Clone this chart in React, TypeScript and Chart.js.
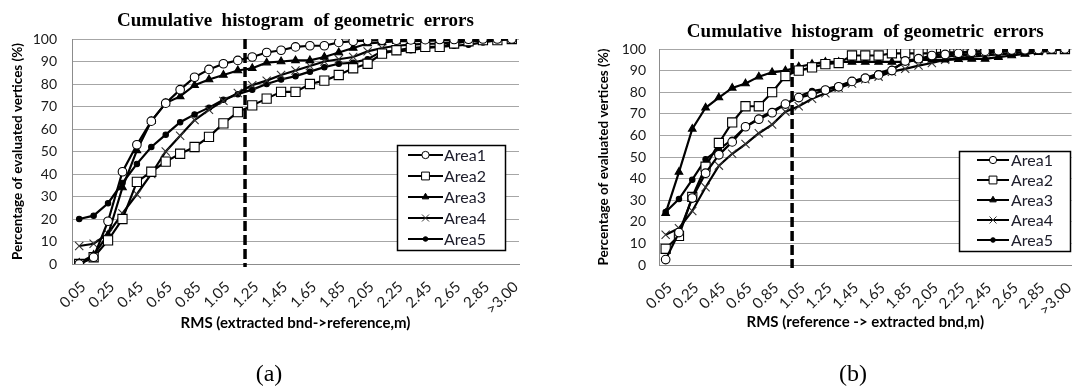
import React, { useEffect, useRef } from 'react';
import { Chart, registerables } from 'chart.js';

Chart.register(...registerables);

// ---------- data ----------
const categories = [
  '0.05', '0.15', '0.25', '0.35', '0.45', '0.55', '0.65', '0.75', '0.85', '0.95',
  '1.05', '1.15', '1.25', '1.35', '1.45', '1.55', '1.65', '1.75', '1.85', '1.95',
  '2.05', '2.15', '2.25', '2.35', '2.45', '2.55', '2.65', '2.75', '2.85', '2.95', '>3.00',
];

const seriesNames = ['Area1', 'Area2', 'Area3', 'Area4', 'Area5'];

// Panel (a): extracted bnd -> reference
const area1A = [0, 3, 19, 41, 53, 63.5, 71.5, 77.5, 83, 86.5, 89, 90.5, 92, 94, 95, 96.5, 97, 97, 98.5, 99, 99.3, 99.5, 99.5, 99.6, 99.7, 99.8, 99.8, 99.9, 100, 100, 100];
const area2A = [0, 3, 10.5, 20, 36.5, 41, 45.5, 49, 52, 56.5, 62.5, 67.5, 70.5, 73.5, 76.5, 76.5, 80, 81.5, 84, 87, 89, 93.5, 95, 96, 96.5, 96.5, 98, 99, 99.5, 99.5, 100];
const area3A = [0.5, 4, 13, 34, 50.5, 63.5, 71.5, 74.5, 79.5, 82, 84, 86, 87, 89.5, 90, 90.5, 90.5, 92, 94, 96, 98, 98.5, 99, 99, 99.2, 99.4, 99.5, 99.6, 99.8, 100, 100];
const area4A = [8, 9, 13.5, 22.5, 31, 40, 50, 57, 64, 68.5, 72.5, 76, 79.5, 81.5, 84, 86, 88, 90, 91, 92, 94.5, 96, 97, 97.5, 97.8, 98, 98.5, 99, 99.3, 99.6, 100];
const area5A = [20, 21.5, 27, 36, 44.5, 52, 57.5, 63, 66.5, 69.5, 73, 75.5, 77.5, 80, 82, 83.5, 85.5, 87.5, 89, 89.5, 91, 94.5, 94.5, 95, 96, 96.5, 97, 97.5, 98.5, 99.5, 100];

// Panel (b): reference -> extracted bnd
const area1B = [2.5, 15, 31, 42.5, 51, 57, 64, 67.5, 70.5, 74.5, 77.5, 79, 81, 82.5, 85, 86.5, 88, 90, 94.5, 95.5, 97, 97.5, 98, 98.5, 99, 99.2, 99.5, 99.6, 99.8, 100, 100];
const area2B = [7.5, 13.5, 31.5, 45.5, 56.5, 66, 73.5, 73.5, 80, 87.5, 90, 91.5, 93, 93.5, 97, 97, 97, 98, 98, 98, 98, 98.5, 98.5, 98.8, 99, 99.5, 99.8, 100, 100, 100, 100];
const area3B = [24, 43, 63, 72.8, 77.5, 82, 84, 87.2, 89.2, 90, 91.8, 93, 94, 94, 94, 94, 94, 94, 94, 95, 95, 95, 95.2, 95.4, 95.4, 96.2, 97, 97.7, 98.5, 99.2, 100];
const area4B = [14, 17, 25, 36, 46, 51.5, 56, 61, 65, 71, 73.5, 77, 79.5, 82, 84, 86, 87.2, 89.5, 90.8, 92.3, 93.5, 95, 95.8, 96.5, 97, 97.5, 98, 98.5, 99, 99.5, 100];
const area5B = [24.5, 30.5, 39.5, 49, 53.5, 58, 64, 68, 71.2, 74.5, 78, 80.5, 81.5, 83, 85, 86.5, 88.8, 90.8, 93.8, 95.4, 96.2, 96.5, 97, 97.5, 98, 98.5, 99, 99.3, 99.6, 99.8, 100];

// Threshold marks (RMS in metres)
const thresholdA = 1.2;
const thresholdB = 1.0;

const yTicks = { min: 0, max: 100, step: 10 };

// ---------- styling ----------
const markerStyles = [
  { style: 'circle', radius: 4.3, fill: '#ffffff', stroke: '#000000' },
  { style: 'rect', radius: 6.5, fill: '#ffffff', stroke: '#000000' },
  { style: 'triangle', radius: 4.4, fill: '#000000', stroke: '#000000' },
  { style: 'crossRot', radius: 5.8, fill: '#000000', stroke: '#333333' },
  { style: 'circle', radius: 2.7, fill: '#000000', stroke: '#000000' },
];

const SANS = 'Lato, "Open Sans", "Liberation Sans", sans-serif';
const SERIF = '"Liberation Serif", "DejaVu Serif", serif';

function drawMarker(ctx: CanvasRenderingContext2D, style: string, x: number, y: number, r: number, fill: string, stroke: string) {
  ctx.save();
  ctx.fillStyle = fill;
  ctx.strokeStyle = stroke;
  ctx.lineWidth = 1;
  ctx.beginPath();
  if (style === 'circle') {
    ctx.arc(x, y, r, 0, Math.PI * 2);
    ctx.fill();
    ctx.stroke();
  } else if (style === 'rect') {
    const s = Math.SQRT1_2 * r;
    ctx.rect(x - s, y - s, 2 * s, 2 * s);
    ctx.fill();
    ctx.stroke();
  } else if (style === 'triangle') {
    ctx.moveTo(x, y - r);
    ctx.lineTo(x + 0.866 * r, y + 0.5 * r);
    ctx.lineTo(x - 0.866 * r, y + 0.5 * r);
    ctx.closePath();
    ctx.fill();
    ctx.stroke();
  } else if (style === 'crossRot') {
    const s = Math.SQRT1_2 * r;
    ctx.moveTo(x - s, y - s);
    ctx.lineTo(x + s, y + s);
    ctx.moveTo(x - s, y + s);
    ctx.lineTo(x + s, y - s);
    ctx.stroke();
  }
  ctx.restore();
}

const boxLegendPlugin = {
  id: 'boxLegend',
  afterDraw(chart: any, _args: any, o: any) {
    if (!o || !o.w) return;
    const ca = chart.chartArea;
    const ctx: CanvasRenderingContext2D = chart.ctx;
    const left = Math.round(ca.right - o.right - o.w);
    const top = Math.round(ca.top + o.top);
    ctx.save();
    ctx.fillStyle = '#ffffff';
    ctx.fillRect(left, top, o.w, o.h);
    ctx.strokeStyle = '#000000';
    ctx.lineWidth = 1.5;
    ctx.strokeRect(left + 0.5, top + 0.5, o.w, o.h);
    chart.data.datasets.forEach((ds: any, i: number) => {
      const y = top + o.first + i * o.gap;
      ctx.beginPath();
      ctx.moveTo(left + o.l0, y);
      ctx.lineTo(left + o.l1, y);
      ctx.lineWidth = 2;
      ctx.strokeStyle = '#000000';
      ctx.stroke();
      const m = markerStyles[i];
      drawMarker(ctx, m.style, left + (o.l0 + o.l1) / 2, y, m.radius * 0.85, m.fill, m.stroke);
      ctx.fillStyle = '#1c1c2a';
      ctx.font = `${o.fontSize}px ${SANS}`;
      ctx.textAlign = 'left';
      ctx.textBaseline = 'middle';
      ctx.fillText(ds.label, left + o.tx, y + 1);
    });
    ctx.restore();
  },
};

const refLinePlugin = {
  id: 'refLine',
  beforeDatasetsDraw(chart: any, _args: any, o: any) {
    if (!o || o.rms == null) return;
    const xs = chart.scales.x;
    const idx = (o.rms - 0.05) / 0.1;
    const x = xs.getPixelForValue(idx);
    const ca = chart.chartArea;
    const ctx: CanvasRenderingContext2D = chart.ctx;
    ctx.save();
    ctx.strokeStyle = '#000000';
    ctx.lineWidth = 3.5;
    ctx.setLineDash([10, 4]);
    ctx.beginPath();
    ctx.moveTo(x, ca.top);
    ctx.lineTo(x, ca.bottom + 3);
    ctx.stroke();
    ctx.restore();
  },
};

function buildConfig(p: any) {
  const data = [p.s1, p.s2, p.s3, p.s4, p.s5];
  return {
    type: 'line',
    data: {
      labels: categories,
      datasets: seriesNames.map((name, i) => ({
        label: name,
        data: data[i],
        borderColor: '#000000',
        borderWidth: 2.2,
        tension: 0,
        fill: false,
        pointStyle: markerStyles[i].style,
        pointRadius: markerStyles[i].radius,
        pointBackgroundColor: markerStyles[i].fill,
        pointBorderColor: markerStyles[i].stroke,
        pointBorderWidth: 1.1,
      })),
    },
    options: {
      responsive: false,
      maintainAspectRatio: false,
      animation: false,
      events: [],
      layout: { padding: { left: 0, top: 0, right: p.padRight, bottom: 0 } },
      plugins: {
        legend: { display: false },
        tooltip: { enabled: false },
        title: {
          display: true,
          text: 'Cumulative  histogram  of geometric  errors',
          color: '#000000',
          font: { family: SERIF, size: 19, weight: 'bold' },
          padding: { top: p.titleTop, bottom: p.titleBottom },
          fullSize: false,
        },
        boxLegend: p.legend,
        refLine: { rms: p.threshold },
      },
      scales: {
        x: {
          type: 'category',
          offset: true,
          grid: { display: false, drawTicks: false },
          border: { display: true, color: '#8c8c8c', width: 1 },
          ticks: {
            autoSkip: false,
            maxRotation: 45,
            minRotation: 45,
            padding: p.xTickPad,
            labelOffset: 4,
            color: '#1a1a1a',
            font: { family: SANS, size: 15 },
            callback: function (this: any, v: any, i: number) {
              return i % 2 === 0 ? this.getLabelForValue(v) : '';
            },
          },
          title: {
            display: true,
            text: p.xTitle,
            color: '#000000',
            font: { family: SANS, size: 15, weight: 'bold' },
            padding: { top: 0, bottom: p.xTitleBottom },
          },
          afterFit: (s: any) => { s.height = p.xHeight; },
        },
        y: {
          min: yTicks.min,
          max: yTicks.max,
          grid: { color: '#a6a6a6', lineWidth: 1, drawTicks: false },
          border: { display: true, color: '#8c8c8c', width: 1 },
          ticks: {
            stepSize: yTicks.step,
            padding: p.yTickPad,
            color: '#1a1a1a',
            font: { family: SANS, size: 14 },
          },
          title: {
            display: true,
            text: 'Percentage of evaluated vertices (%)',
            color: '#000000',
            font: { family: SANS, size: 13.5, weight: 'bold' },
            padding: { top: p.yTitleTop, bottom: 0 },
          },
          afterFit: (s: any) => { s.width = p.yWidth; },
        },
      },
    },
    plugins: [boxLegendPlugin, refLinePlugin],
  };
}

const panelA = {
  s1: area1A, s2: area2A, s3: area3A, s4: area4A, s5: area5A,
  threshold: thresholdA,
  xTitle: 'RMS (extracted bnd->reference,m)',
  padRight: 26, titleTop: 9.6, titleBottom: 6.6,
  xHeight: 123, xTitleBottom: 55, xTickPad: 14,
  yWidth: 72, yTickPad: 15, yTitleTop: 10,
  legend: { right: 14, top: 106, w: 108, h: 105, l0: 11, l1: 46, tx: 47, first: 10, gap: 21, fontSize: 16 },
};

const panelB = {
  s1: area1B, s2: area2B, s3: area3B, s4: area4B, s5: area5B,
  threshold: thresholdB,
  xTitle: 'RMS (reference -> extracted bnd,m)',
  padRight: 2, titleTop: 20.3, titleBottom: 5.9,
  xHeight: 122, xTitleBottom: 56, xTickPad: 14,
  yWidth: 114, yTickPad: 13, yTitleTop: 51,
  legend: { right: 2, top: 102, w: 111, h: 100, l0: 18, l1: 50, tx: 52, first: 9, gap: 20, fontSize: 16 },
};

function Panel({ cfg, left, width }: { cfg: any; left: number; width: number }) {
  const ref = useRef<HTMLCanvasElement | null>(null);
  useEffect(() => {
    if (!ref.current) return;
    const chart = new Chart(ref.current, buildConfig(cfg) as any);
    return () => chart.destroy();
  }, [cfg]);
  return (
    <canvas
      ref={ref}
      width={width}
      height={387}
      style={{ position: 'absolute', left, top: 0, width, height: 387, display: 'block' }}
    />
  );
}

export default function App() {
  return (
    <div style={{ position: 'absolute', left: 0, top: 0, width: 1092, height: 387, background: '#ffffff', overflow: 'hidden' }}>
      <Panel cfg={panelA} left={0} width={545} />
      <Panel cfg={panelB} left={545} width={547} />
      <div style={{ position: 'absolute', left: 219, width: 100, top: 358, textAlign: 'center', fontFamily: SERIF, fontSize: 24, lineHeight: '30px', color: '#000' }}>(a)</div>
      <div style={{ position: 'absolute', left: 803, width: 100, top: 358, textAlign: 'center', fontFamily: SERIF, fontSize: 24, lineHeight: '30px', color: '#000' }}>(b)</div>
    </div>
  );
}
